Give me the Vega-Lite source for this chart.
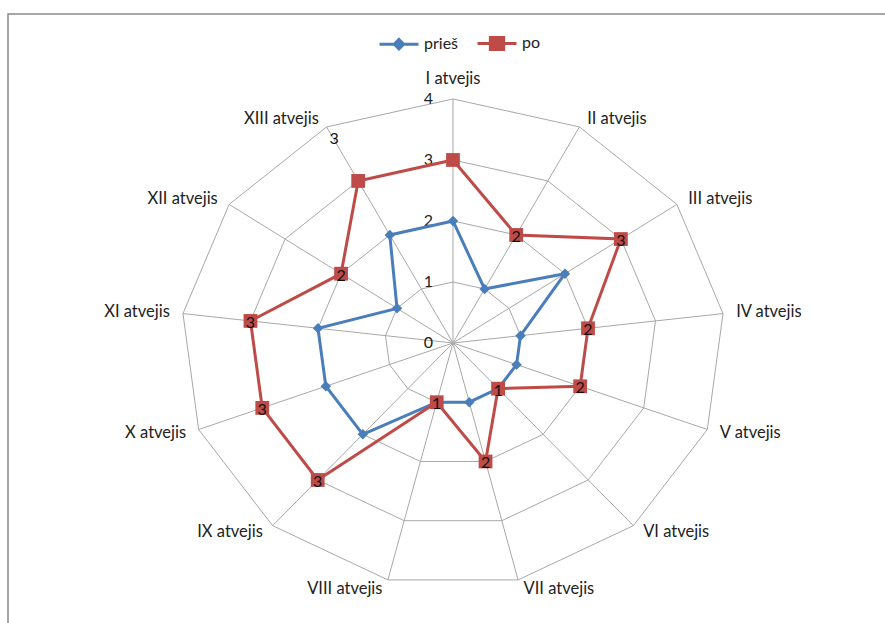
{
  "$schema": "https://vega.github.io/schema/vega-lite/v6.json",
  "width": 877,
  "height": 609,
  "padding": {"left": 8, "top": 14, "right": 0, "bottom": 0},
  "autosize": {"type": "none"},
  "background": "white",
  "config": {
    "view": {"stroke": "#8a8a8a", "strokeWidth": 1.5, "strokeDash": [877, 1486, 609, 2]},
    "font": "Lato",
    "text": {"font": "Lato"}
  },
  "datasets": {
    "cats": [
      {"k": 0, "cat": "I atvejis", "levels": [1, 2, 3, 4]},
      {"k": 1, "cat": "II atvejis", "levels": [1, 2, 3, 4]},
      {"k": 2, "cat": "III atvejis", "levels": [1, 2, 3, 4]},
      {"k": 3, "cat": "IV atvejis", "levels": [1, 2, 3, 4]},
      {"k": 4, "cat": "V atvejis", "levels": [1, 2, 3, 4]},
      {"k": 5, "cat": "VI atvejis", "levels": [1, 2, 3, 4]},
      {"k": 6, "cat": "VII atvejis", "levels": [1, 2, 3, 4]},
      {"k": 7, "cat": "VIII atvejis", "levels": [1, 2, 3, 4]},
      {"k": 8, "cat": "IX atvejis", "levels": [1, 2, 3, 4]},
      {"k": 9, "cat": "X atvejis", "levels": [1, 2, 3, 4]},
      {"k": 10, "cat": "XI atvejis", "levels": [1, 2, 3, 4]},
      {"k": 11, "cat": "XII atvejis", "levels": [1, 2, 3, 4]},
      {"k": 12, "cat": "XIII atvejis", "levels": [1, 2, 3, 4]}
    ],
    "scores": [
      {"k": 0, "cat": "I atvejis", "series": "prieš", "value": 2},
      {"k": 1, "cat": "II atvejis", "series": "prieš", "value": 1},
      {"k": 2, "cat": "III atvejis", "series": "prieš", "value": 2},
      {"k": 3, "cat": "IV atvejis", "series": "prieš", "value": 1},
      {"k": 4, "cat": "V atvejis", "series": "prieš", "value": 1},
      {"k": 5, "cat": "VI atvejis", "series": "prieš", "value": 1},
      {"k": 6, "cat": "VII atvejis", "series": "prieš", "value": 1},
      {"k": 7, "cat": "VIII atvejis", "series": "prieš", "value": 1},
      {"k": 8, "cat": "IX atvejis", "series": "prieš", "value": 2},
      {"k": 9, "cat": "X atvejis", "series": "prieš", "value": 2},
      {"k": 10, "cat": "XI atvejis", "series": "prieš", "value": 2},
      {"k": 11, "cat": "XII atvejis", "series": "prieš", "value": 1},
      {"k": 12, "cat": "XIII atvejis", "series": "prieš", "value": 2},
      {"k": 0, "cat": "I atvejis", "series": "po", "value": 3},
      {"k": 1, "cat": "II atvejis", "series": "po", "value": 2},
      {"k": 2, "cat": "III atvejis", "series": "po", "value": 3},
      {"k": 3, "cat": "IV atvejis", "series": "po", "value": 2},
      {"k": 4, "cat": "V atvejis", "series": "po", "value": 2},
      {"k": 5, "cat": "VI atvejis", "series": "po", "value": 1},
      {"k": 6, "cat": "VII atvejis", "series": "po", "value": 2},
      {"k": 7, "cat": "VIII atvejis", "series": "po", "value": 1},
      {"k": 8, "cat": "IX atvejis", "series": "po", "value": 3},
      {"k": 9, "cat": "X atvejis", "series": "po", "value": 3},
      {"k": 10, "cat": "XI atvejis", "series": "po", "value": 3},
      {"k": 11, "cat": "XII atvejis", "series": "po", "value": 2},
      {"k": 12, "cat": "XIII atvejis", "series": "po", "value": 3}
    ],
    "ticks": [{"v": 0}, {"v": 1}, {"v": 2}, {"v": 3}, {"v": 4}]
  },
  "layer": [
    {
      "data": {"name": "cats"},
      "transform": [
        {"flatten": ["levels"], "as": ["level"]},
        {"calculate": "datum.k*2*PI/13", "as": "t"},
        {"calculate": "datum.level*sin(datum.t)", "as": "px"},
        {"calculate": "datum.level*cos(datum.t)", "as": "py"}
      ],
      "mark": {"type": "line", "interpolate": "linear-closed", "stroke": "#a8a8a8", "strokeWidth": 1},
      "encoding": {
        "x": {"field": "px", "type": "quantitative", "scale": {"domain": [-6.544, 6.353], "nice": false, "zero": false}, "axis": null},
        "y": {"field": "py", "type": "quantitative", "scale": {"domain": [-4.59, 5.393], "nice": false, "zero": false}, "axis": null},
        "detail": {"field": "level", "type": "nominal"},
        "order": {"field": "k", "type": "quantitative"}
      }
    },
    {
      "data": {"name": "cats"},
      "transform": [
        {"calculate": "datum.k*2*PI/13", "as": "t"},
        {"calculate": "4*sin(datum.t)", "as": "px"},
        {"calculate": "4*cos(datum.t)", "as": "py"}
      ],
      "mark": {"type": "rule", "stroke": "#a8a8a8", "strokeWidth": 1},
      "encoding": {
        "x": {"field": "px", "type": "quantitative"},
        "y": {"field": "py", "type": "quantitative"},
        "x2": {"datum": 0},
        "y2": {"datum": 0}
      }
    },
    {
      "data": {"name": "ticks"},
      "transform": [
        {"calculate": "0", "as": "px"},
        {"calculate": "datum.v", "as": "py"}
      ],
      "mark": {"type": "text", "align": "right", "baseline": "middle", "dx": -20, "fontSize": 16, "fill": "#222"},
      "encoding": {
        "x": {"field": "px", "type": "quantitative"},
        "y": {"field": "py", "type": "quantitative"},
        "text": {"field": "v", "type": "quantitative"}
      }
    },
    {
      "data": {"name": "cats"},
      "transform": [
        {"filter": "datum.k == 0"},
        {"calculate": "datum.k*2*PI/13", "as": "t"},
        {"calculate": "4.15*sin(datum.t)", "as": "px"},
        {"calculate": "4.15*cos(datum.t)", "as": "py"}
      ],
      "mark": {"type": "text", "align": "center", "baseline": "bottom", "dy": -3, "fontSize": 16.5, "fill": "#222"},
      "encoding": {
        "x": {"field": "px", "type": "quantitative"},
        "y": {"field": "py", "type": "quantitative"},
        "text": {"field": "cat"}
      }
    },
    {
      "data": {"name": "cats"},
      "transform": [
        {"filter": "datum.k >= 1 && datum.k <= 6"},
        {"calculate": "datum.k*2*PI/13", "as": "t"},
        {"calculate": "4.15*sin(datum.t)", "as": "px"},
        {"calculate": "4.15*cos(datum.t)", "as": "py"}
      ],
      "mark": {"type": "text", "align": "left", "baseline": "middle", "dx": 3, "fontSize": 16.5, "fill": "#222"},
      "encoding": {
        "x": {"field": "px", "type": "quantitative"},
        "y": {"field": "py", "type": "quantitative"},
        "text": {"field": "cat"}
      }
    },
    {
      "data": {"name": "cats"},
      "transform": [
        {"filter": "datum.k >= 7"},
        {"calculate": "datum.k*2*PI/13", "as": "t"},
        {"calculate": "4.15*sin(datum.t)", "as": "px"},
        {"calculate": "4.15*cos(datum.t)", "as": "py"}
      ],
      "mark": {"type": "text", "align": "right", "baseline": "middle", "dx": -3, "fontSize": 16.5, "fill": "#222"},
      "encoding": {
        "x": {"field": "px", "type": "quantitative"},
        "y": {"field": "py", "type": "quantitative"},
        "text": {"field": "cat"}
      }
    },
    {
      "data": {"name": "scores"},
      "transform": [
        {"calculate": "datum.k*2*PI/13", "as": "t"},
        {"calculate": "datum.value*sin(datum.t)", "as": "px"},
        {"calculate": "datum.value*cos(datum.t)", "as": "py"}
      ],
      "mark": {"type": "line", "interpolate": "linear-closed", "strokeWidth": 3},
      "encoding": {
        "x": {"field": "px", "type": "quantitative"},
        "y": {"field": "py", "type": "quantitative"},
        "order": {"field": "k", "type": "quantitative"},
        "color": {
          "field": "series",
          "type": "nominal",
          "scale": {"domain": ["prieš", "po"], "range": ["#4a7ebb", "#be4b48"]},
          "legend": {
            "orient": "none",
            "legendX": 370,
            "legendY": 8,
            "direction": "horizontal",
            "title": null,
            "padding": 0,
            "labelFont": "Lato",
            "labelFontSize": 16,
            "labelColor": "#222",
            "symbolSize": 1521,
            "symbolStrokeWidth": 3,
            "columnPadding": 12,
            "labelOffset": 4,
            "encode": {
              "symbols": {
                "update": {
                  "shape": {"signal": "datum.value === 'prieš' ? 'M-1,0H1M0,-0.24L0.24,0L0,0.24L-0.24,0Z' : 'M-1,0H1M-0.34,-0.31H0.34V0.31H-0.34Z'"},
                  "fill": {"signal": "datum.value === 'prieš' ? '#4a7ebb' : '#be4b48'"},
                  "stroke": {"signal": "datum.value === 'prieš' ? '#4a7ebb' : '#be4b48'"},
                  "strokeWidth": {"value": 3},
                  "opacity": {"value": 1}
                }
              }
            }
          }
        }
      }
    },
    {
      "data": {"name": "scores"},
      "transform": [
        {"filter": "datum.series == 'prieš'"},
        {"calculate": "datum.k*2*PI/13", "as": "t"},
        {"calculate": "datum.value*sin(datum.t)", "as": "px"},
        {"calculate": "datum.value*cos(datum.t)", "as": "py"}
      ],
      "mark": {"type": "point", "shape": "diamond", "filled": true, "opacity": 1, "size": 110, "fill": "#4a7ebb"},
      "encoding": {
        "x": {"field": "px", "type": "quantitative"},
        "y": {"field": "py", "type": "quantitative"}
      }
    },
    {
      "data": {"name": "scores"},
      "transform": [
        {"filter": "datum.series == 'po'"},
        {"calculate": "datum.k*2*PI/13", "as": "t"},
        {"calculate": "datum.value*sin(datum.t)", "as": "px"},
        {"calculate": "datum.value*cos(datum.t)", "as": "py"}
      ],
      "mark": {"type": "point", "shape": "square", "filled": true, "opacity": 1, "size": 190, "fill": "#be4b48"},
      "encoding": {
        "x": {"field": "px", "type": "quantitative"},
        "y": {"field": "py", "type": "quantitative"}
      }
    },
    {
      "data": {"name": "scores"},
      "transform": [
        {"filter": "datum.series == 'po' && datum.k >= 1 && datum.k <= 11"},
        {"calculate": "datum.k*2*PI/13", "as": "t"},
        {"calculate": "datum.value*sin(datum.t)", "as": "px"},
        {"calculate": "datum.value*cos(datum.t)", "as": "py"}
      ],
      "mark": {"type": "text", "align": "center", "baseline": "middle", "dy": 2, "fontSize": 16, "fill": "#111"},
      "encoding": {
        "x": {"field": "px", "type": "quantitative"},
        "y": {"field": "py", "type": "quantitative"},
        "text": {"field": "value", "type": "quantitative"}
      }
    },
    {
      "data": {"name": "scores"},
      "transform": [
        {"filter": "datum.series == 'po' && datum.k == 12"},
        {"calculate": "datum.k*2*PI/13", "as": "t"},
        {"calculate": "datum.value*sin(datum.t)", "as": "px"},
        {"calculate": "datum.value*cos(datum.t)", "as": "py"}
      ],
      "mark": {"type": "text", "align": "center", "baseline": "middle", "dx": -24, "dy": -42, "fontSize": 16, "fill": "#111"},
      "encoding": {
        "x": {"field": "px", "type": "quantitative"},
        "y": {"field": "py", "type": "quantitative"},
        "text": {"field": "value", "type": "quantitative"}
      }
    }
  ]
}
